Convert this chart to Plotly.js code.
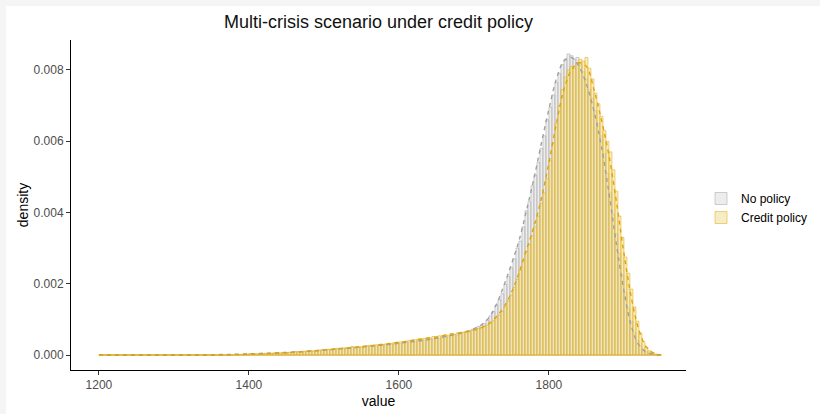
<!DOCTYPE html>
<html>
<head>
<meta charset="utf-8">
<script src="https://cdn.plot.ly/plotly-3.0.1.min.js"></script>
<style>html,body{margin:0;padding:0;background:#fff;}#chart{width:820px;height:414px;}</style>
</head>
<body>
<div id="chart"></div>
<script>
// Histogram bins: left edge of first bin and bin width (value units)
const binStart = 1200;
const binWidth = 4;

// Series names
const seriesNames = ["No policy", "Credit policy"];

// Histogram densities per bin, starting at 1200 (bins of width 4)
const noPolicyHist = [
  0,0,0,0,0,0,0,0,0,0, 0,0,0,0,0,0,0,0,0,0, 0,0,0,0,0,0,0,0,0,0, 0,0,0,0,0,0,0,0,0,0,
  0.02e-3,0,0,0,0,0.02e-3,0,0.02e-3,0,0.03e-3,
  0.04e-3,0.02e-3,0.03e-3,0.04e-3,0.03e-3,0.05e-3,0.04e-3,0.05e-3,0.06e-3,0.05e-3,
  0.06e-3,0.07e-3,0.06e-3,0.08e-3,0.07e-3,0.09e-3,0.10e-3,0.08e-3,0.11e-3,0.10e-3,
  0.12e-3,0.11e-3,0.13e-3,0.12e-3,0.15e-3,0.14e-3,0.16e-3,0.15e-3,0.18e-3,0.16e-3,
  0.19e-3,0.17e-3,0.20e-3,0.19e-3,0.24e-3,0.20e-3,0.22e-3,0.21e-3,0.23e-3,0.25e-3,
  0.24e-3,0.26e-3,0.25e-3,0.28e-3,0.27e-3,0.29e-3,0.28e-3,0.31e-3,0.30e-3,0.33e-3,
  0.32e-3,0.34e-3,0.36e-3,0.35e-3,0.38e-3,0.37e-3,0.40e-3,0.39e-3,0.42e-3,0.41e-3,
  0.45e-3,0.44e-3,0.47e-3,0.46e-3,0.50e-3,0.52e-3,0.51e-3,0.55e-3,0.57e-3,0.56e-3,
  0.61e-3,0.63e-3,0.66e-3,0.68e-3,0.72e-3,
  0.74e-3,0.80e-3,0.83e-3,0.88e-3,0.98e-3,1.10e-3,1.22e-3,1.40e-3,1.55e-3,1.72e-3,
  1.98e-3,2.20e-3,2.45e-3,2.70e-3,3.00e-3,3.20e-3,3.60e-3,4.05e-3,4.30e-3,4.75e-3,
  5.05e-3,5.40e-3,5.80e-3,6.15e-3,6.60e-3,6.95e-3,7.30e-3,7.65e-3,7.90e-3,8.15e-3,
  8.30e-3,8.45e-3,8.40e-3,8.30e-3,8.35e-3,8.15e-3,7.95e-3,7.75e-3,7.45e-3,7.20e-3,
  6.85e-3,6.50e-3,6.15e-3,5.65e-3,5.10e-3,4.55e-3,3.95e-3,3.40e-3,2.85e-3,2.25e-3,
  1.75e-3,1.30e-3,0.95e-3,0.62e-3,0.40e-3,0.26e-3,0.15e-3,0.09e-3,0.05e-3,0.03e-3,
  0.01e-3,0
];
const creditPolicyHist = [
  0,0,0,0,0,0,0,0,0,0, 0,0,0,0,0,0,0,0,0,0, 0,0,0,0,0,0,0,0,0,0, 0,0,0,0,0,0,0,0,0,0,
  0,0,0,0,0,0.02e-3,0,0,0.02e-3,0,
  0.03e-3,0.02e-3,0.03e-3,0.02e-3,0.04e-3,0.03e-3,0.05e-3,0.04e-3,0.05e-3,0.06e-3,
  0.05e-3,0.07e-3,0.06e-3,0.07e-3,0.08e-3,0.09e-3,0.08e-3,0.10e-3,0.09e-3,0.11e-3,
  0.12e-3,0.11e-3,0.13e-3,0.14e-3,0.13e-3,0.15e-3,0.16e-3,0.15e-3,0.17e-3,0.19e-3,
  0.18e-3,0.20e-3,0.19e-3,0.21e-3,0.22e-3,0.21e-3,0.24e-3,0.23e-3,0.25e-3,0.26e-3,
  0.27e-3,0.26e-3,0.29e-3,0.28e-3,0.30e-3,0.31e-3,0.33e-3,0.32e-3,0.35e-3,0.34e-3,
  0.37e-3,0.36e-3,0.39e-3,0.41e-3,0.40e-3,0.43e-3,0.45e-3,0.44e-3,0.47e-3,0.49e-3,
  0.48e-3,0.52e-3,0.50e-3,0.54e-3,0.53e-3,0.57e-3,0.55e-3,0.60e-3,0.58e-3,0.62e-3,
  0.60e-3,0.64e-3,0.66e-3,0.65e-3,0.69e-3,
  0.70e-3,0.74e-3,0.76e-3,0.80e-3,0.84e-3,0.90e-3,0.96e-3,1.04e-3,1.12e-3,1.22e-3,
  1.35e-3,1.52e-3,1.68e-3,1.90e-3,2.12e-3,2.38e-3,2.65e-3,2.90e-3,3.10e-3,3.35e-3,
  3.60e-3,3.90e-3,4.25e-3,4.55e-3,4.95e-3,5.45e-3,5.95e-3,6.50e-3,7.00e-3,7.45e-3,
  7.80e-3,8.00e-3,8.10e-3,8.05e-3,8.20e-3,8.30e-3,8.25e-3,8.35e-3,8.05e-3,7.75e-3,
  7.35e-3,7.05e-3,6.70e-3,6.30e-3,6.00e-3,5.70e-3,5.20e-3,4.60e-3,3.90e-3,3.30e-3,
  2.75e-3,2.30e-3,1.85e-3,1.35e-3,0.95e-3,0.62e-3,0.38e-3,0.22e-3,0.12e-3,0.07e-3,
  0.03e-3,0
];

// Kernel density curves (dashed), read at these values
const densityX = [
  1200,1210,1220,1230,1240,1250,1260,1270,1280,1290,1300,1310,1320,1330,1340,1350,
  1360,1370,1380,1390,1400,1410,1420,1430,1440,1450,1460,1470,1480,1490,1500,1510,
  1520,1530,1540,1550,1560,1570,1580,1590,1600,1610,1620,1630,1640,1650,1660,1670,
  1680,1690,1700,1710,1720,1730,1740,1750,1760,1770,1780,1790,1800,1810,1820,1830,
  1840,1850,1860,1870,1880,1890,1900,1910,1920,1930,1940,1950
];
const noPolicyDensity = [
  0,0,0,0,0,0,0,0,0,0,0,0,0,0,0,0,
  0.01e-3,0.015e-3,0.02e-3,0.03e-3,0.035e-3,0.04e-3,0.05e-3,0.055e-3,0.065e-3,0.075e-3,0.085e-3,0.095e-3,0.11e-3,0.12e-3,0.14e-3,0.155e-3,
  0.17e-3,0.19e-3,0.205e-3,0.225e-3,0.245e-3,0.265e-3,0.285e-3,0.305e-3,0.33e-3,0.355e-3,0.38e-3,0.405e-3,0.435e-3,0.47e-3,0.51e-3,0.55e-3,
  0.60e-3,0.66e-3,0.74e-3,0.85e-3,1.05e-3,1.42e-3,1.95e-3,2.55e-3,3.20e-3,4.05e-3,4.95e-3,5.95e-3,6.90e-3,7.75e-3,8.25e-3,8.35e-3,
  8.10e-3,7.60e-3,6.85e-3,5.85e-3,4.55e-3,3.10e-3,1.80e-3,0.80e-3,0.28e-3,0.08e-3,0.02e-3,0
];
const creditPolicyDensity = [
  0,0,0,0,0,0,0,0,0,0,0,0,0,0,0,0,
  0,0,0.01e-3,0.015e-3,0.025e-3,0.03e-3,0.035e-3,0.045e-3,0.055e-3,0.065e-3,0.08e-3,0.09e-3,0.11e-3,0.125e-3,0.145e-3,0.16e-3,
  0.18e-3,0.20e-3,0.215e-3,0.235e-3,0.26e-3,0.28e-3,0.305e-3,0.33e-3,0.36e-3,0.385e-3,0.42e-3,0.45e-3,0.48e-3,0.51e-3,0.55e-3,0.585e-3,
  0.62e-3,0.655e-3,0.70e-3,0.77e-3,0.88e-3,1.08e-3,1.35e-3,1.75e-3,2.30e-3,2.95e-3,3.60e-3,4.40e-3,5.40e-3,6.50e-3,7.45e-3,8.00e-3,
  8.20e-3,8.10e-3,7.45e-3,6.60e-3,5.60e-3,4.30e-3,2.85e-3,1.60e-3,0.70e-3,0.22e-3,0.05e-3,0
];

// Axis ticks
const xTicks = [1200, 1400, 1600, 1800];
const yTicks = [0, 0.002, 0.004, 0.006, 0.008];
const yTickLabels = ["0.000", "0.002", "0.004", "0.006", "0.008"];

const binCenters = noPolicyHist.map((_, i) => binStart + binWidth * (i + 0.5));
const binEnd = binStart + binWidth * noPolicyHist.length;

const greyLine = "#A8A8A8";
const goldLine = "#E3AE1A";
const FONT = "Liberation Sans, Arial, sans-serif";

const traces = [
  {
    type: "bar", name: seriesNames[0], x: binCenters, y: noPolicyHist, width: binWidth,
    marker: { color: "rgba(215,215,215,0.45)", line: { color: greyLine, width: 0.55 } },
    hoverinfo: "skip"
  },
  {
    type: "bar", name: seriesNames[1], x: binCenters, y: creditPolicyHist, width: binWidth,
    marker: { color: "rgba(240,222,150,0.55)", line: { color: goldLine, width: 0.55 } },
    hoverinfo: "skip"
  },
  {
    type: "scatter", mode: "lines", x: [binStart, binEnd], y: [0, 0], showlegend: false,
    line: { color: "rgba(227,174,26,0.6)", width: 1.2 }, hoverinfo: "skip"
  },
  {
    type: "scatter", mode: "lines", x: densityX, y: noPolicyDensity, showlegend: false,
    line: { color: "#A0A0A0", width: 1.4, dash: "4px,4px", shape: "spline" }, hoverinfo: "skip"
  },
  {
    type: "scatter", mode: "lines", x: densityX, y: creditPolicyDensity, showlegend: false,
    line: { color: "#E3A300", width: 1.4, dash: "4px,4px", shape: "spline" }, hoverinfo: "skip"
  }
];

const layout = {
  width: 820, height: 414,
  margin: { l: 71, r: 134, t: 40, b: 44, pad: 0 },
  paper_bgcolor: "#ffffff", plot_bgcolor: "#ffffff",
  barmode: "overlay", bargap: 0,
  font: { family: FONT, color: "#000" },
  title: {
    text: "Multi-crisis scenario under credit policy",
    font: { family: FONT, size: 18, color: "#111" },
    x: 0.5, xref: "paper", xanchor: "center",
    y: 1 - 22 / 414, yref: "container", yanchor: "middle"
  },
  xaxis: {
    range: [1162.75, 1982.75], showgrid: false, zeroline: false,
    showline: true, linecolor: "#000", linewidth: 1,
    ticks: "outside", ticklen: 4, tickcolor: "#333", tickwidth: 1,
    tickvals: xTicks, tickfont: { family: FONT, size: 12, color: "#4D4D4D" },
    title: { text: "value", font: { family: FONT, size: 14, color: "#000" }, standoff: 4 },
    automargin: false
  },
  yaxis: {
    range: [-0.00042, 0.00884], showgrid: false, zeroline: false,
    showline: true, linecolor: "#000", linewidth: 1,
    ticks: "outside", ticklen: 4, tickcolor: "#333", tickwidth: 1,
    tickvals: yTicks, ticktext: yTickLabels, tickfont: { family: FONT, size: 12, color: "#4D4D4D" },
    title: { text: "density", font: { family: FONT, size: 14, color: "#000" }, standoff: 1 },
    automargin: false
  },
  legend: {
    xref: "container", yref: "container",
    x: 701 / 820, xanchor: "left", y: 1 - 208 / 414, yanchor: "middle",
    font: { family: FONT, size: 12, color: "#000" },
    bgcolor: "rgba(0,0,0,0)", tracegroupgap: 0
  },
  shapes: [
    { type: "rect", xref: "paper", yref: "paper", x0: -0.2, x1: 1.3, y0: 1.103, y1: 1.13, fillcolor: "#f5f5f5", line: { width: 0 }, layer: "below" },
    { type: "rect", xref: "paper", yref: "paper", x0: -0.2, x1: -0.1057, y0: -0.2, y1: 1.13, fillcolor: "#f5f5f5", line: { width: 0 }, layer: "below" }
  ]
};

Plotly.newPlot("chart", traces, layout, { displayModeBar: false, staticPlot: true });
</script>
</body>
</html>
